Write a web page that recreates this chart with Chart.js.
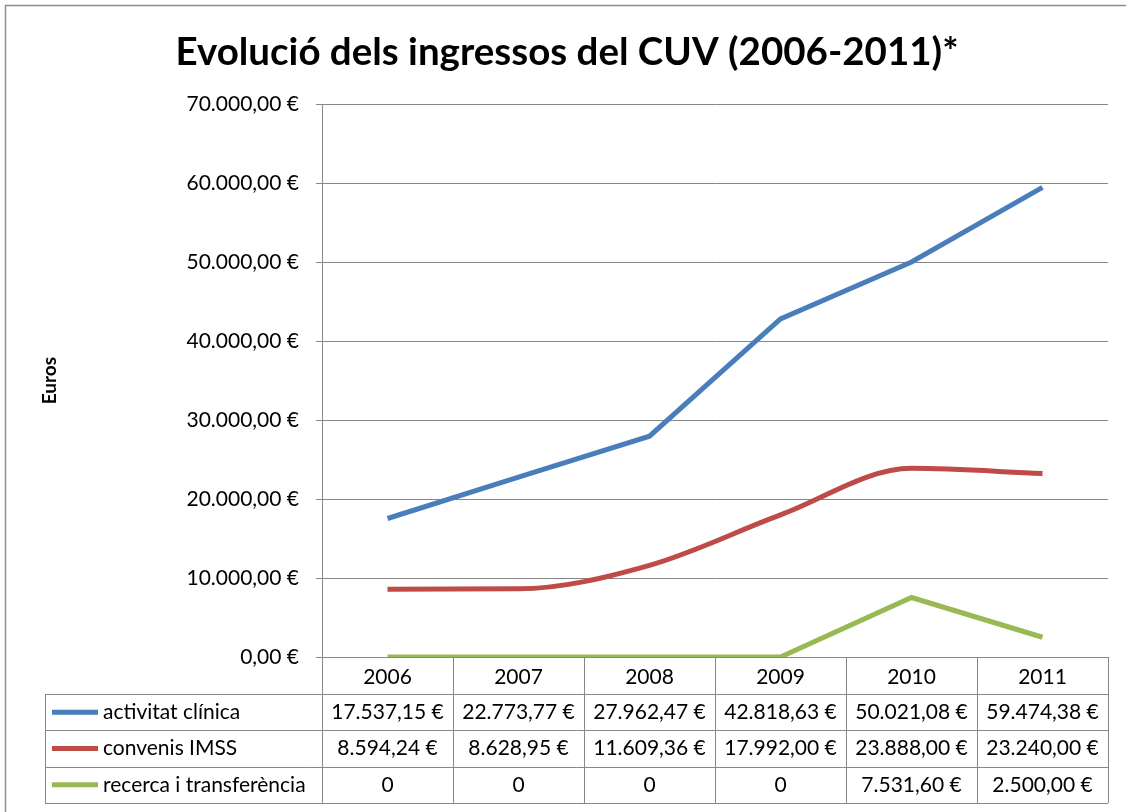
<!DOCTYPE html>
<html>
<head>
<meta charset="utf-8">
<script src="https://cdn.jsdelivr.net/npm/chart.js@4"></script>
<style>
  html, body { margin: 0; padding: 0; background: #fff; }
  #wrap { width: 1126px; height: 812px; }
</style>
</head>
<body>
<div id="wrap"><canvas id="cuvChart"></canvas></div>
<script>
// Dades
const years = ['2006', '2007', '2008', '2009', '2010', '2011'];
const activitatClinica = [17537.15, 22773.77, 27962.47, 42818.63, 50021.08, 59474.38];
const convenisIMSS = [8594.24, 8628.95, 11609.36, 17992.00, 23888.00, 23240.00];
const recercaTransferencia = [0, 0, 0, 0, 7531.60, 2500.00];
const seriesNames = ['activitat clínica', 'convenis IMSS', 'recerca i transferència'];
const seriesValues = [activitatClinica, convenisIMSS, recercaTransferencia];
const seriesColors = ['#4A7EBB', '#BE4B48', '#98B954'];
const yMin = 0, yMax = 70000, yStep = 10000;

const FONT = 'Lato, "Open Sans", sans-serif';
const GRID = '#878787';

function euro(v) {
  const parts = v.toFixed(2).split('.');
  const int = parts[0].replace(/\B(?=(\d{3})+(?!\d))/g, '.');
  return int + ',' + parts[1] + ' €';
}

function cellText(v) {
  return v === 0 ? '0' : euro(v);
}

// Taula de dades sota el gràfic
const dataTablePlugin = {
  id: 'dataTable',
  afterDraw(chart) {
    const ctx = chart.ctx;
    const x = chart.scales.x;
    const area = chart.chartArea;
    const half = (x.getPixelForValue(1) - x.getPixelForValue(0)) / 2;
    const headTop = area.bottom;
    const headBottom = x.bottom;
    const tableBottom = 803;
    const tableLeft = 45;
    const rowH = (tableBottom - headBottom) / seriesNames.length;

    ctx.save();
    // marc exterior
    ctx.strokeStyle = '#8E8E8E';
    ctx.lineWidth = 1.5;
    ctx.strokeRect(5.5, 5.5, 1300, 900);

    ctx.strokeStyle = GRID;
    ctx.lineWidth = 1;
    ctx.beginPath();
    // línies horitzontals
    for (let i = 0; i <= seriesNames.length; i++) {
      const y = Math.round(headBottom + i * rowH) + 0.5;
      ctx.moveTo(tableLeft, y);
      ctx.lineTo(area.right, y);
    }
    // línies verticals
    ctx.moveTo(tableLeft + 0.5, headBottom);
    ctx.lineTo(tableLeft + 0.5, tableBottom);
    for (let i = 0; i <= years.length; i++) {
      const px = Math.round(x.getPixelForValue(0) - half + i * 2 * half) + 0.5;
      ctx.moveTo(px, headTop);
      ctx.lineTo(px, tableBottom);
    }
    ctx.stroke();

    ctx.font = '21px ' + FONT;
    ctx.textBaseline = 'middle';
    seriesNames.forEach((name, r) => {
      const cy = headBottom + (r + 0.5) * rowH;
      // clau de llegenda
      ctx.strokeStyle = seriesColors[r];
      ctx.lineWidth = 5;
      ctx.beginPath();
      ctx.moveTo(52, cy);
      ctx.lineTo(98, cy);
      ctx.stroke();
      ctx.fillStyle = '#000';
      ctx.textAlign = 'left';
      ctx.fillText(name, 103, cy);
      ctx.textAlign = 'center';
      seriesValues[r].forEach((v, c) => {
        ctx.fillText(cellText(v), x.getPixelForValue(c), cy);
      });
    });
    ctx.restore();
  }
};

new Chart(document.getElementById('cuvChart'), {
  type: 'line',
  data: {
    labels: years,
    datasets: seriesNames.map((name, i) => ({
      label: name,
      data: seriesValues[i],
      borderColor: seriesColors[i],
      backgroundColor: seriesColors[i],
      borderWidth: 5,
      pointRadius: 0,
      cubicInterpolationMode: i === 1 ? 'monotone' : 'default',
      tension: 0
    }))
  },
  options: {
    responsive: true,
    maintainAspectRatio: false,
    animation: false,
    layout: { padding: { left: 26, right: 18, top: 0, bottom: 118 } },
    scales: {
      x: {
        type: 'category',
        offset: true,
        grid: { display: false },
        border: { display: false },
        ticks: {
          color: '#000',
          font: { family: FONT, size: 21 },
          padding: 0
        },
        afterFit(scale) { scale.height = 37; }
      },
      y: {
        min: yMin,
        max: yMax,
        ticks: {
          stepSize: yStep,
          color: '#000',
          font: { family: FONT, size: 21 },
          padding: 17,
          callback: v => euro(v)
        },
        grid: { color: GRID, lineWidth: 1, drawTicks: true, tickLength: 6 },
        border: { display: true, color: GRID, width: 1 },
        title: {
          display: true,
          text: 'Euros',
          color: '#000',
          font: { family: FONT, size: 19, weight: 'bold' },
          padding: { top: 12, bottom: 0 }
        },
        afterFit(scale) { scale.width = 296; }
      }
    },
    plugins: {
      legend: { display: false },
      tooltip: { enabled: false },
      title: {
        display: true,
        text: 'Evolució dels ingressos del CUV (2006-2011)*',
        color: '#000',
        font: { family: FONT, size: 38.5, weight: 'bold' },
        padding: { top: 29, bottom: 29 }
      }
    }
  },
  plugins: [dataTablePlugin]
});
</script>
</body>
</html>
